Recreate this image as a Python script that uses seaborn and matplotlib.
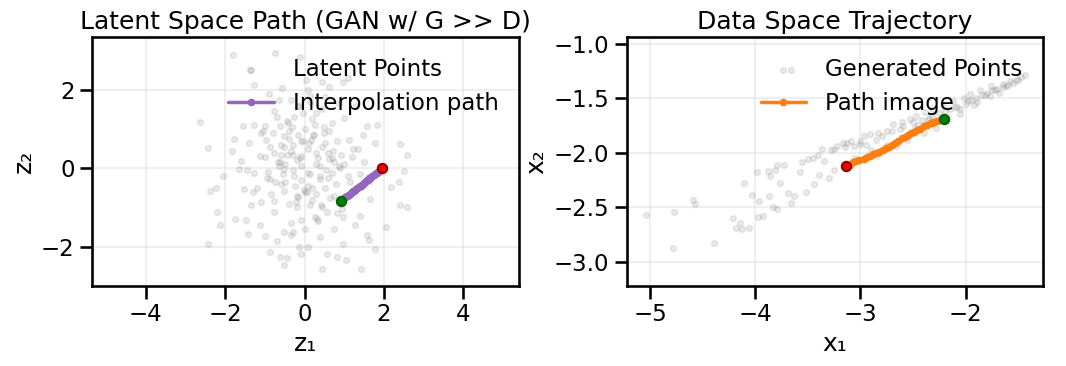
import numpy as np
import seaborn as sns
import matplotlib.pyplot as plt

# latent samples (z1, z2)
latent_z1 = [-1.8, -0.74, -0.11, -1.37, 0.03, 0.43, 0.96, 1.1, 0.61, -0.57, -1.26, -0.9, -0.65, -0.35,
             -0.17, 0.13, 0.52, 0.87, 1.3, -2.63, -1.54, -1.26, -1.0, -0.61, -0.26, -0.04, 0.26, 0.7,
             1.0, 1.57, 1.83, -1.78, -1.39, -0.96, -0.52, -0.17, 0.17, 0.52, 0.83, 1.13, 1.48, 1.78,
             2.41, 2.57, -2.43, -1.83, -1.61, -1.13, -0.78, -0.43, -0.09, 0.3, 0.61, 0.91, 1.22,
             -2.04, -1.65, -1.26, -0.87, -0.52, -0.26, 0.09, 0.39, 0.7, 1.39, 1.65, 2.17, 2.39, 2.5,
             -2.39, -2.24, -1.52, -1.09, -1.35, -0.78, -0.52, -0.17, 0.13, 0.43, 0.74, 1.65, 2.41,
             2.57, -2.2, -2.13, -1.74, -1.48, -1.13, -0.78, -0.52, -0.3, -0.09, 0.02, 0.26, 0.57,
             0.74, 0.96, 1.26, 1.39, 2.04, -1.43, -1.0, -0.35, 0.39, 1.57, 1.63, -2.42, -0.87, -0.61,
             -0.43, -0.1, 0.09, 0.57, 0.83, 0.96, 1.04, 1.78, -0.52, 0.43, 1.41,
             -0.3, 0.1, -0.5, 0.3, -0.1, 0.2, -0.6, 0.5, -0.8, 0.0, -0.2, 0.4, -0.4, 0.6, -1.0, 1.0,
             -0.2, 0.8, -0.7, 0.3, -1.2, 1.2, -0.1, 0.15, -0.35, 0.45, -0.55, 0.25, -0.85, 0.65,
             -0.45, 0.05, -0.25, 0.35, -0.65, 0.55, -0.15, 0.75, -0.95, 0.9, -1.1, 1.1, -0.05, 0.2,
             -0.3, -0.75, 0.45, -0.4, 0.1, -0.6,
             -0.12, 0.08, -0.38, 0.28, -0.68, 0.62, -0.22, 0.18, -0.48, 0.38, -0.88, 0.82, -0.02,
             0.12, -0.32, 0.42, -0.58, 0.58, -0.78, 0.72, -0.18, 0.22, -0.42, 0.32, -1.05, 1.15,
             -0.28, 0.48, -0.62, 0.68, -0.08, 0.02, -0.52, 0.52, -0.92, 0.88, -1.3, 1.35, -1.45,
             1.5, -0.35, 0.15, -0.7, 0.95, -0.15, 0.35]
latent_z2 = [2.89, 2.93, 2.83, 2.5, 2.25, 2.21, 2.21, 2.3, 2.07, 2.04, 2.13, 1.89, 1.75, 1.75,
             1.59, 1.7, 1.81, 1.66, 1.58, 1.18, 1.07, 1.11, 1.07, 1.09, 1.32, 1.41, 1.11, 1.16,
             1.28, 1.07, 1.1, 0.75, 0.65, 0.73, 0.82, 0.86, 0.73, 0.65, 0.69, 0.73, 0.86, 0.65,
             0.62, 0.34, 0.52, 0.44, 0.19, 0.31, 0.4, 0.35, 0.31, 0.4, 0.23, 0.35, 0.48,
             -0.19, -0.03, -0.11, -0.28, -0.03, -0.19, -0.11, -0.28, -0.11, -0.15, -0.32, -0.49,
             -0.36, -0.08, -0.59, -0.51, -0.53, -0.87, -0.95, -0.83, -0.57, -0.74, -0.95, -0.99,
             -0.7, -0.78, -0.94, -1.0, -1.12, -1.46, -1.29, -1.33, -1.46, -1.12, -1.63, -1.63,
             -1.33, -1.54, -1.25, -1.12, -1.54, -1.25, -1.46, -1.22, -1.5, -1.67, -1.74, -1.71,
             -1.76, -1.71, -1.84, -1.94, -2.14, -2.26, -2.29, -2.18, -2.01, -2.18, -2.26, -1.92,
             -2.35, -2.05, -2.47, -2.56, -2.56,
             0.6, 0.5, 0.1, 0.1, -0.3, -0.5, -0.4, 0.9, 0.9, 1.0, 0.2, -0.2, -0.9, 0.4, 0.3, 0.1,
             -1.0, -0.4, 1.3, 1.4, -0.5, 0.3, 0.05, -0.15, 0.45, 0.55, -0.15, 0.85, -0.65, -0.75,
             1.2, -0.6, -0.45, 0.25, 0.05, -0.05, 1.6, 0.15, -0.25, 0.0, 0.9, -0.2, 0.7, -0.8,
             0.35, -0.35, 1.5, 0.95, 2.0, 0.6,
             0.25, -0.45, 0.75, -0.65, 0.15, 0.95, -0.85, 1.25, -0.35, 0.05, 0.55, -1.15, -0.55,
             0.65, 1.05, -0.95, 0.35, -0.25, 1.45, 0.45, -0.7, 0.85, 1.15, -1.3, 0.95, -0.35,
             -0.05, 1.05, 0.15, 0.25, 0.7, -0.6, 0.55, -0.5, -0.1, 0.05, -0.6, 0.5, -0.05, 0.15,
             -1.4, 1.85, -1.85, -1.05, -2.0, -1.35]

# generated points (x1, x2)
gen_x1 = [-5.04, -4.78, -4.77, -4.59, -4.57, -4.39, -4.21, -4.18, -4.13, -4.14, -4.06, -4.11,
          -4.03, -3.98, -3.96, -3.97, -3.93, -3.87, -3.88, -3.86, -3.83, -3.81, -3.79, -3.79,
          -3.76, -3.73, -3.69, -3.66, -3.66, -3.63, -3.57, -3.56, -3.52, -3.5, -3.44, -3.39,
          -3.37, -3.35, -3.3, -3.28, -3.25, -3.22, -3.17, -3.13, -3.09, -3.06, -3.0, -2.97,
          -2.91, -2.84, -2.83, -2.78, -2.75, -2.69, -2.66, -2.61, -2.56, -2.53, -2.47, -2.4,
          -2.39, -2.31, -2.28, -2.22, -2.18, -2.12, -2.05, -2.02, -1.96, -1.89, -1.86, -1.76,
          -1.77, -1.65, -1.58, -1.52, -1.44, -1.47,
          -2.95, -2.85, -2.7, -2.6, -2.5, -2.45, -2.35, -2.25, -2.1, -2.0, -1.9, -1.8, -1.7,
          -1.6, -1.95, -1.85, -1.75, -1.65, -1.55, -2.15, -2.55, -2.65, -2.75, -2.9, -3.05,
          -3.0, -3.15, -3.25, -3.4, -3.45,
          -2.42, -2.32, -2.2, -2.08, -1.98, -1.82, -1.72, -1.62, -1.5, -2.62, -2.8, -2.05,
          -1.92, -1.68, -2.48, -2.36]
gen_x2 = [-2.57, -2.87, -2.54, -2.43, -2.47, -2.83, -2.6, -2.69, -2.7, -2.64, -2.69, -2.28,
          -2.39, -2.18, -2.44, -2.59, -2.58, -2.4, -2.17, -2.21, -2.5, -2.16, -2.52, -2.11,
          -2.28, -2.11, -2.37, -1.24, -2.46, -2.4, -2.18, -2.09, -2.36, -2.06, -2.29, -2.2,
          -1.97, -2.08, -2.23, -1.98, -2.16, -1.94, -1.91, -1.91, -1.89, -1.94, -1.89, -1.85,
          -1.83, -2.03, -1.82, -1.98, -1.8, -1.74, -1.94, -1.72, -1.88, -1.69, -1.66, -1.82,
          -1.63, -1.6, -1.77, -1.57, -1.69, -1.53, -1.65, -1.5, -1.46, -1.54, -1.43, -1.39,
          -1.48, -1.37, -1.34, -1.33, -1.29, -1.31,
          -1.93, -1.88, -1.8, -1.76, -1.72, -1.75, -1.68, -1.64, -1.58, -1.55, -1.5, -1.45,
          -1.42, -1.38, -1.52, -1.47, -1.43, -1.4, -1.36, -1.6, -1.85, -1.9, -1.93, -1.98,
          -2.05, -1.92, -1.95, -1.97, -2.02, -2.05,
          -1.7, -1.66, -1.62, -1.58, -1.53, -1.47, -1.43, -1.39, -1.33, -1.78, -1.85, -1.6,
          -1.56, -1.45, -1.77, -1.7]

# interpolation path in latent space and its image
path_z1 = [0.92, 0.95, 0.97, 1.00, 1.03, 1.06, 1.08, 1.11, 1.14, 1.17, 1.19, 1.22, 1.25, 1.28,
           1.30, 1.33, 1.36, 1.39, 1.41, 1.44, 1.47, 1.50, 1.52, 1.55, 1.57, 1.60, 1.63, 1.66,
           1.68, 1.71, 1.74, 1.77, 1.79, 1.82, 1.85, 1.88, 1.90, 1.93, 1.96]
path_z2 = [-0.83, -0.81, -0.79, -0.77, -0.74, -0.72, -0.70, -0.68, -0.66, -0.64, -0.61, -0.59,
           -0.57, -0.55, -0.52, -0.50, -0.48, -0.46, -0.44, -0.42, -0.39, -0.37, -0.35, -0.33,
           -0.31, -0.29, -0.26, -0.24, -0.22, -0.20, -0.17, -0.15, -0.13, -0.11, -0.09, -0.07,
           -0.04, -0.02, 0.00]
path_x1 = [-2.21, -2.24, -2.27, -2.30, -2.33, -2.37, -2.40, -2.43, -2.46, -2.49, -2.52, -2.55,
           -2.58, -2.61, -2.64, -2.67, -2.70, -2.73, -2.76, -2.79, -2.82, -2.85, -2.88, -2.91,
           -2.94, -2.97, -3.01, -3.04, -3.07, -3.10, -3.14]
path_x2 = [-1.69, -1.70, -1.71, -1.72, -1.73, -1.75, -1.76, -1.78, -1.79, -1.81, -1.82, -1.84,
           -1.86, -1.87, -1.89, -1.91, -1.93, -1.95, -1.96, -1.98, -1.99, -2.00, -2.01, -2.03,
           -2.04, -2.06, -2.07, -2.08, -2.09, -2.11, -2.12]

sns.set_theme(context="talk", style="ticks",
              rc={"axes.edgecolor": "black", "text.color": "black",
                  "axes.labelcolor": "black", "xtick.color": "black",
                  "ytick.color": "black"})

fig, (ax1, ax2) = plt.subplots(1, 2, figsize=(10.66, 3.66), dpi=100)
ax1.set_position([0.0863, 0.219, 0.4006, 0.680])
ax2.set_position([0.588, 0.219, 0.390, 0.680])

# latent space
ax1.scatter(latent_z1, latent_z2, s=16, color="gray", alpha=0.15, label="Latent Points")
ax1.plot(path_z1, path_z2, ".-", color="tab:purple", lw=2.5, label="Interpolation path")
ax1.scatter(path_z1[0], path_z2[0], s=45, color="green", edgecolors="darkgreen", zorder=5)
ax1.scatter(path_z1[-1], path_z2[-1], s=45, color="red", edgecolors="darkred", zorder=5)
ax1.set_xlim(-5.35, 5.4)
ax1.set_ylim(-3.0, 3.35)
ax1.set_xticks([-4, -2, 0, 2, 4])
ax1.set_yticks([-2, 0, 2])
ax1.set_xlabel("z\u2081")
ax1.set_ylabel("z\u2082")
ax1.set_title("Latent Space Path (GAN w/ G >> D)")
ax1.grid(True, alpha=0.3)
ax1.legend(loc="upper right", frameon=False)

# data space
ax2.scatter(gen_x1, gen_x2, s=16, color="gray", alpha=0.15, label="Generated Points")
ax2.plot(path_x1, path_x2, ".-", color="tab:orange", lw=2.5, label="Path image")
ax2.scatter(path_x1[0], path_x2[0], s=45, color="green", edgecolors="darkgreen", zorder=5)
ax2.scatter(path_x1[-1], path_x2[-1], s=45, color="red", edgecolors="darkred", zorder=5)
ax2.set_xlim(-5.22, -1.27)
ax2.set_ylim(-3.22, -0.94)
ax2.set_xlabel("x\u2081")
ax2.set_ylabel("x\u2082")
ax2.set_title("Data Space Trajectory")
ax2.grid(True, alpha=0.3)
ax2.legend(loc="upper right", frameon=False)

fig.savefig("out.png", dpi=100)
